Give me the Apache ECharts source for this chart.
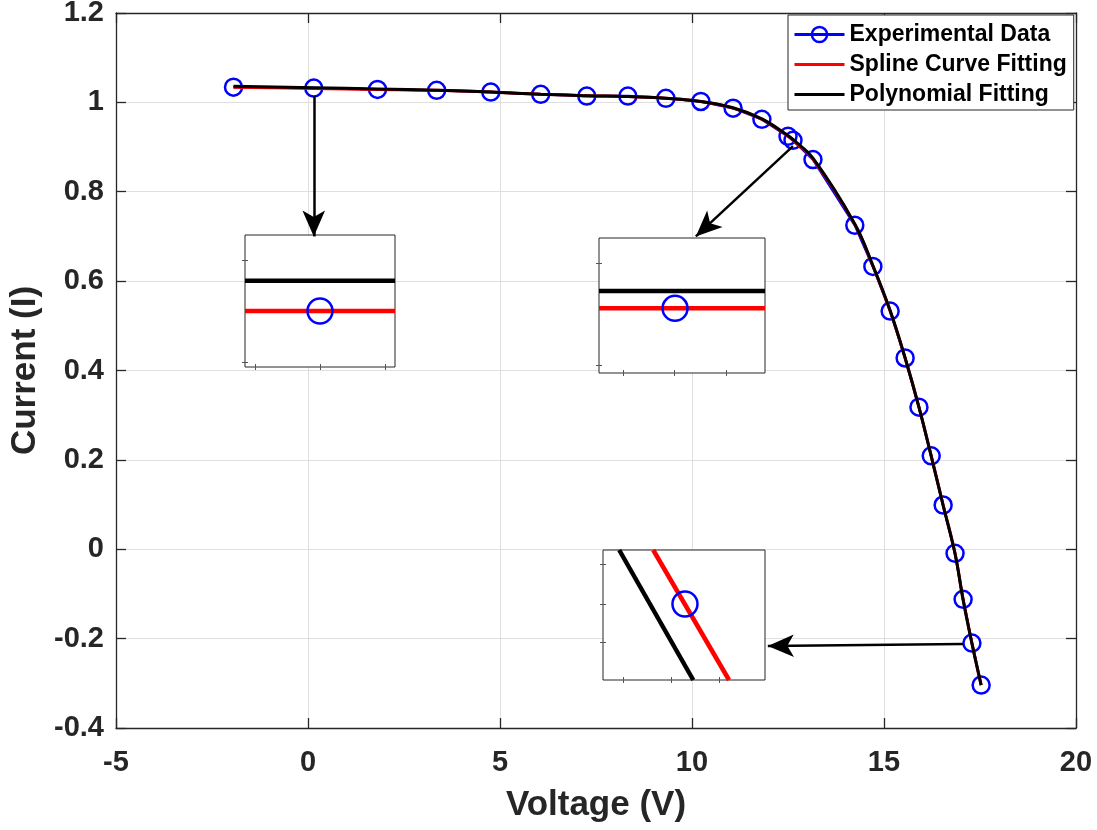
<!DOCTYPE html>
<html><head><meta charset="utf-8">
<script src="https://cdn.jsdelivr.net/npm/echarts@6/dist/echarts.min.js"></script>
<style>html,body{margin:0;padding:0;background:#fff}#c{width:1097px;height:830px}</style>
</head><body><div id="c"></div>
<script>
// ---- data ----
const voltage = [-1.94,0.15,1.81,3.35,4.76,6.06,7.26,8.33,9.32,10.23,11.07,11.82,12.50,12.63,13.15,14.24,14.71,15.16,15.55,15.91,16.23,16.54,16.85,17.06,17.29,17.53];
const current = [1.034,1.032,1.029,1.027,1.023,1.018,1.014,1.014,1.009,1.002,0.987,0.962,0.924,0.915,0.872,0.725,0.633,0.533,0.428,0.318,0.209,0.099,-0.009,-0.112,-0.210,-0.304];
const splineCurrent = [1.034,1.031,1.029,1.027,1.023,1.018,1.015,1.013,1.009,1.002,0.987,0.962,0.925,0.915,0.873,0.727,0.634,0.533,0.428,0.318,0.209,0.099,-0.009,-0.112,-0.210,-0.304];
const polyCurrent = [1.036,1.033,1.030,1.027,1.023,1.018,1.015,1.013,1.009,1.002,0.988,0.963,0.926,0.917,0.875,0.728,0.635,0.534,0.428,0.318,0.208,0.098,-0.010,-0.113,-0.211,-0.304];
const xTicks = [-5,0,5,10,15,20];
const yTicks = [-0.4,-0.2,0,0.2,0.4,0.6,0.8,1,1.2];
const seriesNames = ['Experimental Data','Spline Curve Fitting','Polynomial Fitting'];
// arrows (from -> to) in data coordinates
const arrowFrom = [[0.15,1.014],[12.63,0.902],[17.06,-0.212]];
const arrowTo   = [[0.15,0.700],[10.10,0.700],[11.975,-0.2165]];
// insets (normalised 0..1 coordinates inside each box)
const insetBlack = [[[0,0.654],[1,0.654]], [[0,0.607],[1,0.607]], [[0.10,1],[0.557,0]]];
const insetRed   = [[[0,0.424],[1,0.424]], [[0,0.479],[1,0.479]], [[0.31,1],[0.778,0]]];
const insetPoint = [[[0.5,0.424]], [[0.458,0.479]], [[0.506,0.585]]];
const insetXTicks = [[0.067,0.5,0.933],[0.145,0.456,0.767],[0.123,0.42,0.72]];
const insetYTicks = [[0.038,0.81],[0.06,0.815],[0.29,0.579,0.887]];

const FONT = '"Liberation Sans", Arial, Helvetica, sans-serif';
const AX = '#262626';
const insetBoxes = [
  {left:245, top:235, width:150, height:132},
  {left:599, top:238, width:166, height:135},
  {left:603, top:550, width:162, height:130}
];

const pair = (xs, ys) => xs.map((x,i)=>[x, ys[i]]);

const grids = [{left:116, right:21, top:13, bottom:102, containLabel:false, outerBoundsMode:'none'}];
insetBoxes.forEach(b => grids.push(Object.assign({show:true, backgroundColor:'#fff', borderColor:AX, borderWidth:1, z:3, containLabel:false, outerBoundsMode:'none'}, b)));

const mainAxisCommon = {
  type:'value', gridIndex:0,
  axisLine:{show:true, onZero:false, lineStyle:{color:AX, width:1.3}},
  axisTick:{show:true, inside:true, length:10, lineStyle:{color:AX, width:1.3}},
};
const xAxes = [
  Object.assign({}, mainAxisCommon, {
    position:'bottom', min:xTicks[0], max:xTicks[xTicks.length-1], interval:5,
    axisLabel:{fontSize:29, fontWeight:'bold', color:AX, margin:20, fontFamily:FONT},
    splitLine:{show:true, lineStyle:{color:'#dfdfdf', width:1}},
    name:'Voltage (V)', nameLocation:'middle', nameGap:60,
    nameTextStyle:{fontSize:35, fontWeight:'bold', color:AX, fontFamily:FONT}
  }),
  Object.assign({}, mainAxisCommon, {
    position:'top', min:xTicks[0], max:xTicks[xTicks.length-1], interval:5,
    axisLabel:{show:false}, splitLine:{show:false}
  })
];
const yAxes = [
  Object.assign({}, mainAxisCommon, {
    position:'left', min:yTicks[0], max:yTicks[yTicks.length-1], interval:0.2,
    axisLabel:{fontSize:29, fontWeight:'bold', color:AX, margin:12, fontFamily:FONT},
    splitLine:{show:true, lineStyle:{color:'#dfdfdf', width:1}},
    name:'Current (I)', nameLocation:'middle', nameGap:72,
    nameTextStyle:{fontSize:35, fontWeight:'bold', color:AX, fontFamily:FONT}
  }),
  Object.assign({}, mainAxisCommon, {
    position:'right', min:yTicks[0], max:yTicks[yTicks.length-1], interval:0.2,
    axisLabel:{show:false}, splitLine:{show:false}
  })
];
const insetAxis = (g, pos, ticks) => ({
  type:'value', gridIndex:g, position:pos, min:0, max:1, z:3,
  axisLine:{show:false}, axisLabel:{show:false}, splitLine:{show:false},
  axisTick:{show:true, inside:true, length:3, customValues:ticks, lineStyle:{color:'#555', width:1}}
});
insetBoxes.forEach((b,k) => {
  xAxes.push(insetAxis(k+1,'bottom',insetXTicks[k]));
  xAxes.push(insetAxis(k+1,'top',insetXTicks[k]));
  yAxes.push(insetAxis(k+1,'left',insetYTicks[k]));
  yAxes.push(insetAxis(k+1,'right',insetYTicks[k]));
});

const series = [
  {
    name:seriesNames[0], type:'line', xAxisIndex:0, yAxisIndex:0,
    data:pair(voltage,current), symbol:'circle', symbolSize:17,
    lineStyle:{color:'#0000ff', width:2.5},
    itemStyle:{color:'transparent', borderColor:'#0000ff', borderWidth:2.5},
    z:2
  },
  {
    name:seriesNames[1], type:'line', xAxisIndex:0, yAxisIndex:0,
    data:pair(voltage,splineCurrent), smooth:0.4, symbol:'none', showSymbol:false,
    lineStyle:{color:'#ff0000', width:3}, itemStyle:{color:'#ff0000'}, z:3
  },
  {
    name:seriesNames[2], type:'line', xAxisIndex:0, yAxisIndex:0,
    data:pair(voltage,polyCurrent), smooth:0.4, symbol:'none', showSymbol:false,
    lineStyle:{color:'#000000', width:3}, itemStyle:{color:'#000000'}, z:4,
    markLine:{
      silent:true, animation:false, label:{show:false},
      lineStyle:{color:'#000', width:2.5, type:'solid'},
      symbolSize:[17,26],
      data: arrowFrom.map((f,i)=>[{coord:f, symbol:'none'},{coord:arrowTo[i], symbol:'arrow'}])
    }
  }
];
insetBoxes.forEach((b,k) => {
  const ax = 2+2*k;
  series.push({name:'inset'+k+'red', type:'line', xAxisIndex:ax, yAxisIndex:ax, data:insetRed[k], symbol:'none',
    lineStyle:{color:'#ff0000', width:4.5}, z:5, silent:true});
  series.push({name:'inset'+k+'black', type:'line', xAxisIndex:ax, yAxisIndex:ax, data:insetBlack[k], symbol:'none',
    lineStyle:{color:'#000000', width:4.5}, z:5, silent:true});
  series.push({name:'inset'+k+'pt', type:'scatter', xAxisIndex:ax, yAxisIndex:ax, data:insetPoint[k], symbol:'circle', symbolSize:25,
    itemStyle:{color:'transparent', borderColor:'#0000ff', borderWidth:2.5, opacity:1}, z:6, silent:true});
});

const chart = echarts.init(document.getElementById('c'));
chart.setOption({
  animation:false,
  backgroundColor:'#fff',
  textStyle:{fontFamily:FONT},
  grid:grids,
  xAxis:xAxes,
  yAxis:yAxes,
  legend:{
    data:[
      {name:seriesNames[0], itemStyle:{color:'transparent', borderColor:'#0000ff', borderWidth:2.5}, lineStyle:{width:3}},
      {name:seriesNames[1], itemStyle:{opacity:0}, lineStyle:{width:3}},
      {name:seriesNames[2], itemStyle:{opacity:0}, lineStyle:{width:3}}
    ],
    orient:'vertical', left:788, top:15,
    itemWidth:50, itemHeight:19, itemGap:7, padding:[8,7,4,5],
    borderColor:AX, borderWidth:1, backgroundColor:'#fff',
    textStyle:{fontSize:23, fontWeight:'bold', color:'#000', fontFamily:FONT},
    selectedMode:false
  },
  series:series
});
</script></body></html>
